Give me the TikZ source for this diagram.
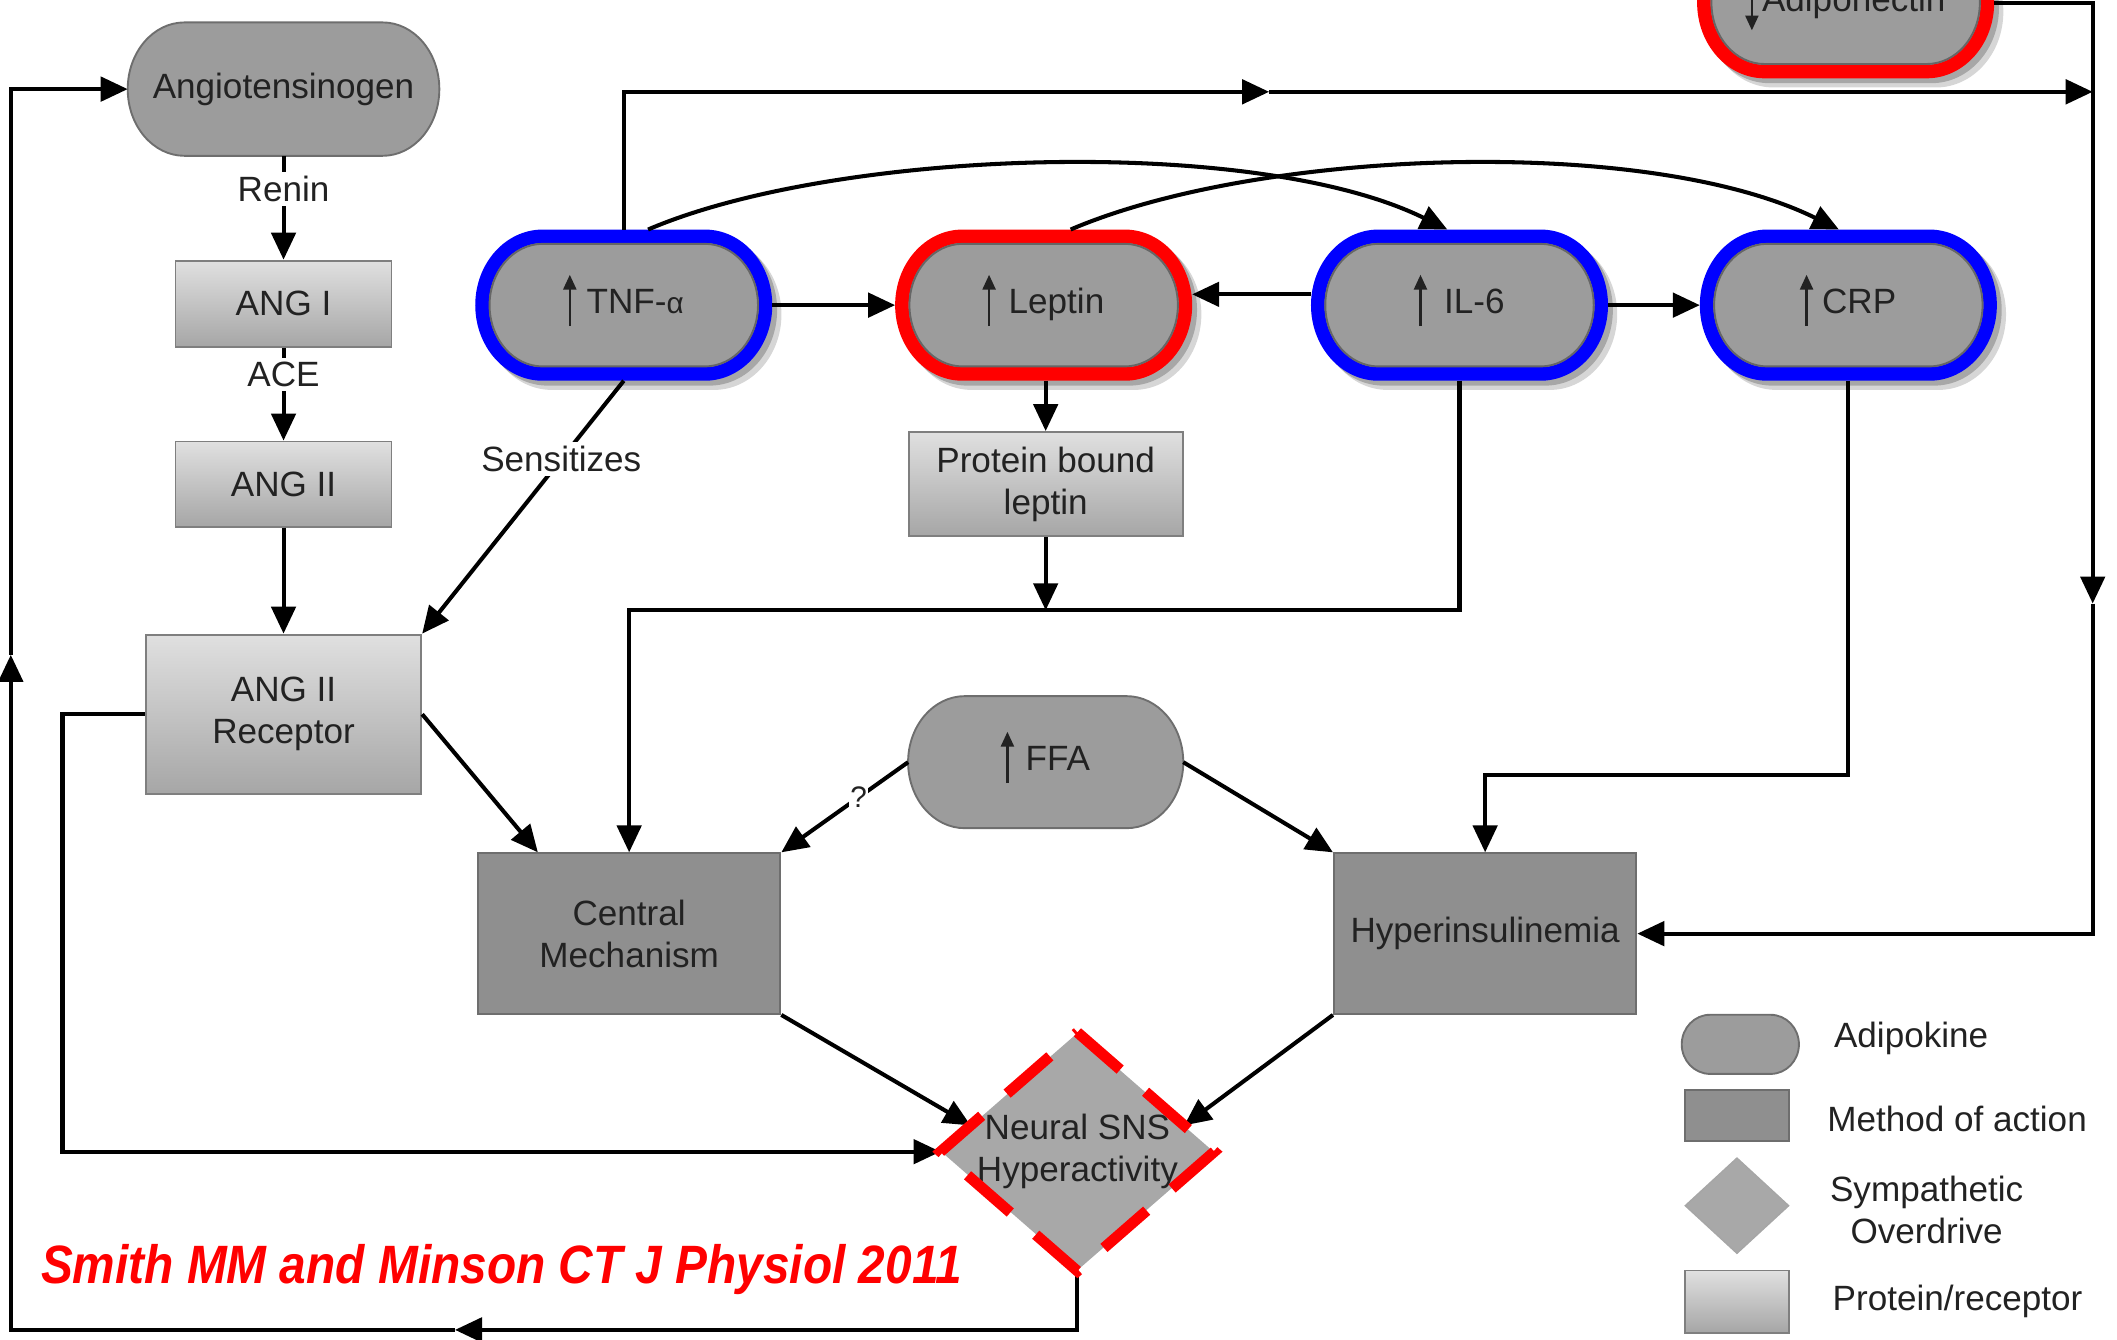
\documentclass[tikz,border=0pt]{standalone}
\usepackage{fontspec}
\usepackage{graphicx}
\setmainfont{Liberation Sans}
\usetikzlibrary{arrows.meta,calc,shapes.geometric,backgrounds}
\definecolor{txt}{HTML}{222222}
\definecolor{adfill}{HTML}{9C9C9C}
\definecolor{adline}{HTML}{6E6E6E}
\definecolor{mfill}{HTML}{8F8F8F}
\definecolor{dfill}{HTML}{A8A8A8}
\definecolor{ptop}{HTML}{E0E0E0}
\definecolor{pbot}{HTML}{A6A6A6}
\definecolor{pline}{HTML}{7F7F7F}
\definecolor{ringblue}{HTML}{0000FF}
\definecolor{ringred}{HTML}{FF0000}
% stadium path: #1 node, #2 corner x radius, #3 inset, #4 offset
\newcommand\stad[4]{let \p1=(#1.north west), \p2=(#1.south east) in (\x1+#2+#4,\y1-#3-#4) -- (\x2-#2+#4,\y1-#3-#4) arc[start angle=90,end angle=-90,x radius={#2-#3},y radius={(\y1-\y2)/2-#3}] -- (\x1+#2+#4,\y2+#3-#4) arc[start angle=270,end angle=90,x radius={#2-#3},y radius={(\y1-\y2)/2-#3}] -- cycle}
\newcommand\upa{\tikz[baseline=0pt]{\path[use as bounding box] (-2.25pt,0pt) rectangle (2.25pt,9pt);\draw[txt,line width=0.9pt,-{Triangle[length=5.5pt,width=4.8pt]}] (0pt,-4.5pt) -- (0pt,14.5pt);}}
\newcommand\dna{\tikz[baseline=0pt]{\path[use as bounding box] (-2.25pt,0pt) rectangle (2.25pt,9pt);\draw[txt,line width=0.9pt,-{Triangle[length=5.5pt,width=4.8pt]}] (0pt,12pt) -- (0pt,-7pt);}}
\begin{document}
\begin{tikzpicture}[x=0.5pt,y=-0.5pt,
  every node/.style={font=\fontsize{13}{15.5}\selectfont, text=txt},
  box/.style={rectangle, inner sep=0pt, align=center},
  prot/.style={box, draw=pline, line width=0.7pt, top color=ptop, bottom color=pbot},
  meth/.style={box, draw=adline, line width=0.7pt, fill=mfill},
  ringed/.style={box, outer sep=2.5pt, minimum width=105pt, minimum height=51pt, text height=9.5pt, text depth=3pt},
  lbl/.style={fill=white, inner sep=1.5pt},
  arr/.style={line width=1.5pt, -{Triangle[length=10pt,width=9pt]}},
  shapeline/.style={draw=adline, line width=0.7pt, fill=adfill},
]
\useasboundingbox (0,0) rectangle (1568,992);

% ---------- nodes ----------
\node[box, minimum width=115pt, minimum height=49pt] (Ang) at (210,66) {Angiotensinogen};
\node[prot, minimum width=80pt, minimum height=32pt] (A1) at (210,225) {ANG I};
\node[prot, minimum width=80pt, minimum height=31.5pt] (A2) at (210,358.5) {ANG II};
\node[prot, minimum width=102pt, minimum height=59pt] (Rec) at (210,529) {ANG II\\Receptor};
\node[ringed] (TNF) at (462,226) {\upa\hspace{4pt}TNF-{\fontsize{11}{11}\selectfont α}};
\node[ringed] (Lep) at (773,226) {\upa\hspace{5pt}Leptin};
\node[ringed] (IL6) at (1081,226) {\upa\hspace{6.5pt}IL-6};
\node[ringed] (CRP) at (1369,226) {\upa\hspace{3.5pt}CRP};
\node[ringed] (Adi) at (1367,2) {\dna\hspace{1.5pt}Adiponectin};
\node[prot, minimum width=101.5pt, minimum height=38.5pt] (PBL) at (774.5,358.5) {Protein bound\\leptin};
\node[box, minimum width=101.5pt, minimum height=48.5pt, text height=9.5pt, text depth=3pt] (FFA) at (774.5,564.5) {\upa\hspace{4.5pt}FFA};
\node[meth, minimum width=112pt, minimum height=59.5pt] (CM) at (466,691.5) {Central\\Mechanism};
\node[meth, minimum width=112pt, minimum height=59.5pt] (HI) at (1100,691.5) {Hyperinsulinemia};
\node[diamond, fill=dfill, inner sep=0pt, minimum width=101pt, minimum height=88pt] (SNS) at (798,853) {};
\node[box] (SNSt) at (SNS.center) {Neural SNS\\Hyperactivity};

% legend
\node[box, minimum width=43pt, minimum height=21.5pt] (LgA) at (1289,773.5) {};
\node[meth, minimum width=38.5pt, minimum height=19pt] (LgM) at (1286.5,826) {};
\node[diamond, fill=dfill, draw=black!35, line width=0.5pt, inner sep=0pt, minimum width=38.5pt, minimum height=35.5pt] (LgD) at (1286.5,893) {};
\node[prot, minimum width=38.5pt, minimum height=23pt] (LgP) at (1286.5,964) {};
\node[anchor=west, inner sep=0pt] (LtA) at (1358,769) {Adipokine};
\node[anchor=west, inner sep=0pt] (LtM) at (1353,829) {Method of action};
\node[box] (LtD) at (1427,896) {Sympathetic\\Overdrive};
\node[anchor=west, inner sep=0pt] (LtP) at (1357,964) {Protein/receptor};

\node[anchor=base west, text=ringred, font=\fontsize{20}{20}\selectfont\bfseries\itshape, inner sep=0pt] (cite) at (30,951) {\scalebox{0.885}[1]{Smith MM and Minson CT J Physiol 2011}};

% ---------- shapes behind ----------
\begin{pgfonlayer}{background}
  \foreach \nm in {TNF,Lep,IL6,CRP,Adi} {
    \path[fill=black, opacity=0.16] \stad{\nm}{25pt}{0pt}{3.4pt};
    \path[fill=black, opacity=0.22] \stad{\nm}{25pt}{0pt}{1.8pt};
  }
  \foreach \nm/\cl in {TNF/ringblue,Lep/ringred,IL6/ringblue,CRP/ringblue,Adi/ringred} {
    \path[fill=adfill, draw=\cl, line width=5pt] \stad{\nm}{25pt}{2.5pt}{0pt};
    \path[draw=black!60, line width=0.7pt] \stad{\nm}{25pt}{5.3pt}{0pt};
  }
  \path[shapeline] \stad{Ang}{21pt}{0pt}{0pt};
  \path[shapeline] \stad{FFA}{21pt}{0pt}{0pt};
  \path[shapeline] \stad{LgA}{10.5pt}{0pt}{0pt};
\end{pgfonlayer}

% ---------- coordinates ----------
\coordinate (tA) at (940,68);
\coordinate (vJ) at (1550,68);
\coordinate (vA) at (1550,447);
\coordinate (hL) at (PBL.south |- 0,452);
\coordinate (hC) at (CM.north |- 0,452);
\coordinate (hH) at (HI.north |- 0,574);
\coordinate (bA) at (337,985);
\coordinate (lA) at (8,485);

% ---------- connectors ----------
\draw[arr] (Ang) -- node[lbl, pos=0.32]{Renin} (A1);
\draw[arr] (A1) -- node[lbl, pos=0.29]{ACE} (A2);
\draw[arr] (A2) -- (Rec);
\draw[arr] (Rec.east) -- ($(CM.north west)!0.2!(CM.north east)$);
\draw[arr] (TNF.south) -- node[lbl, pos=0.31]{Sensitizes} (Rec.north east);
\draw[arr] (Rec.west) -- ++(-61,0) |- (SNS.west);

\draw[arr] (TNF.north) |- (tA);
\draw[arr] (tA) -- (vJ);
\draw[arr] (Adi.east) -| (vA);
\draw[arr] (vA) |- (HI.east);

\draw[arr] ($(TNF.north)+(18,0)$) .. controls (620,110) and (930,100) .. ($(IL6.north)+(-9,0)$);
\draw[arr] ($(Lep.north)+(20,0)$) .. controls (933,110) and (1220,100) .. ($(CRP.north)+(-7,0)$);

\draw[arr] (TNF.east) -- (Lep.west);
\draw[arr] ([yshift=4pt]IL6.west) -- ([yshift=4pt]Lep.east);
\draw[arr] (IL6.east) -- (CRP.west);
\draw[arr] (PBL.north |- Lep.south) -- (PBL.north);
\draw[arr] (PBL.south) -- (hL);
\draw[arr] (IL6.south) |- (hC) -- (CM.north);
\draw[arr] (CRP.south) |- (hH) -- (HI.north);

\draw[arr] (FFA.west) -- node[lbl, pos=0.39, inner sep=0.5pt, font=\fontsize{11}{11}\selectfont]{?} (CM.north east);
\draw[arr] (FFA.east) -- (HI.north west);
\draw[arr] (CM.south east) -- ($(SNS.west)!0.22!(SNS.north)$);
\draw[arr] (HI.south west) -- ($(SNS.east)!0.22!(SNS.north)$);

\draw[arr] (SNS.south) |- (bA);
\draw[arr] (bA) -| (lA);
\draw[arr] (lA) |- (Ang.west);

% red dashed outline of the diamond
\draw[draw=ringred, line width=4pt, dash pattern=on 21pt off 12.5pt] (SNS.north) -- (SNS.east) -- (SNS.south) -- (SNS.west) -- cycle;
\end{tikzpicture}
\end{document}
